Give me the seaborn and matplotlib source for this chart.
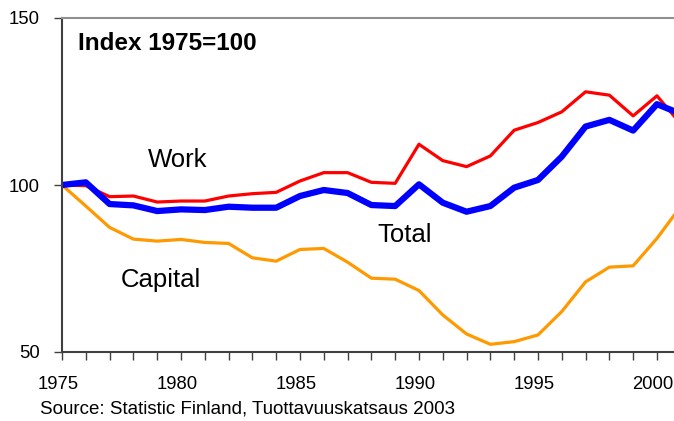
import numpy as np
import pandas as pd
import seaborn as sns
import matplotlib.pyplot as plt
from matplotlib.transforms import ScaledTranslation

years = list(range(1975, 2002))
work = [100.0, 99.8, 96.5, 96.7, 94.9, 95.2, 95.2, 96.7, 97.4, 97.8, 101.2, 103.7,
        103.7, 100.8, 100.5, 112.2, 107.3, 105.5, 108.7, 116.4, 118.7, 121.9, 127.9,
        126.9, 120.7, 126.7, 118.3]
total = [100.0, 100.8, 94.3, 93.9, 92.2, 92.7, 92.5, 93.5, 93.2, 93.2, 96.7, 98.5,
         97.6, 94.0, 93.7, 100.2, 94.7, 92.0, 93.7, 99.2, 101.5, 108.5, 117.5,
         119.5, 116.3, 124.2, 121.3]
capital = [100.0, 93.7, 87.3, 83.8, 83.2, 83.7, 82.8, 82.5, 78.2, 77.2, 80.7, 81.0,
           76.9, 72.1, 71.8, 68.4, 61.1, 55.4, 52.3, 53.1, 55.1, 62.1, 71.0,
           75.4, 75.8, 84.0, 93.6]

df = pd.DataFrame({'Year': years, 'Work': work, 'Total': total, 'Capital': capital})

sns.set_style('white')
plt.rcParams['font.family'] = ['Liberation Sans', 'DejaVu Sans']
plt.rcParams['text.color'] = 'black'

fig = plt.figure(figsize=(6.74, 4.21), dpi=100)
ax = fig.add_axes([62 / 674, 1 - 352 / 421, 1 - 62 / 674 + 0.01, (352 - 18) / 421])

# capital first, then work, total on top
sns.lineplot(data=df, x='Year', y='Capital', color='#FF9900', linewidth=2.3, ax=ax)
sns.lineplot(data=df, x='Year', y='Work', color='#FF0000', linewidth=2.3, ax=ax)
sns.lineplot(data=df, x='Year', y='Total', color='#0000FF', linewidth=4.5, ax=ax)

ax.set_xlim(1975, 2000.8)
ax.set_ylim(50, 150)
ax.set_xlabel('')
ax.set_ylabel('')

ax.set_xticks([1975, 1980, 1985, 1990, 1995, 2000])
ax.set_xticks(years, minor=True)
ax.set_yticks([50, 100, 150])
ax.tick_params(axis='both', which='both', direction='out', length=6, width=1,
               color='#404040', labelcolor='black', labelsize=13.3,
               bottom=True, left=True)
ax.tick_params(axis='x', which='major', pad=11)
ax.tick_params(axis='y', pad=10)

# year labels sit a little left of their ticks in the original
shift = ScaledTranslation(-4 / 100, 0, fig.dpi_scale_trans)
for lbl in ax.get_xticklabels():
    lbl.set_transform(lbl.get_transform() + shift)

for side in ['left', 'bottom']:
    ax.spines[side].set_color('#404040')
    ax.spines[side].set_linewidth(1.5)
ax.spines['top'].set_color('#909090')
ax.spines['top'].set_linewidth(1.5)
ax.spines['right'].set_visible(False)

ax.text(1975.68, 140.4, 'Index 1975=100', fontsize=17.5, fontweight='bold')
ax.text(1978.6, 105.4, 'Work', fontsize=18.5)
ax.text(1988.26, 83.0, 'Total', fontsize=18.5)
ax.text(1977.46, 69.6, 'Capital', fontsize=18.5)

fig.text(40 / 674, 1 - 409 / 421, 'Source: Statistic Finland, Tuottavuuskatsaus 2003',
         fontsize=13.5, va='center')

fig.savefig('out.png', dpi=100)
